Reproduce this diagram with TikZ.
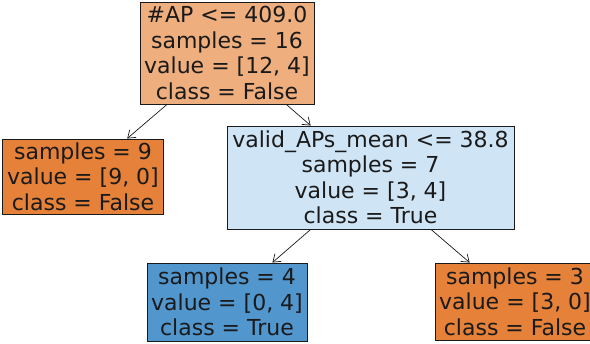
\documentclass[tikz,border=0pt]{standalone}
\usepackage{fontspec}
\setmainfont{DejaVu Sans}
\usepackage{xcolor}
\usepackage{tikz}
\usetikzlibrary{arrows.meta}

\definecolor{falsefull}{RGB}{229,129,57}
\definecolor{falselight}{RGB}{239,174,126}
\definecolor{truefull}{RGB}{82,150,206}
\definecolor{truelight}{RGB}{207,229,246}
\definecolor{inkgray}{RGB}{26,26,26}

\begin{document}
\begin{tikzpicture}[
  x=1pt, y=1pt,
  box/.style={draw=inkgray, line width=0.9pt, align=center, inner sep=1pt,
    text=inkgray, font=\fontsize{22}{25.5}\selectfont},
  split/.style={box, fill=falselight},
  leaffalse/.style={box, fill=falsefull},
  leaftrue/.style={box, fill=truefull},
  arrow/.style={-{Straight Barb[length=7pt, width=10pt]}, draw=inkgray, line width=0.7pt},
]
\useasboundingbox (0,0) rectangle (590,344);

%% Root split
\node[split, minimum width=174, minimum height=102] (root) at (227,291)
  {\#AP <= 409.0\\samples = 16\\value = [12, 4]\\class = False};

%% Depth one
\node[leaffalse, minimum width=161, minimum height=75] (left) at (83,167.5)
  {samples = 9\\value = [9, 0]\\class = False};
\node[box, fill=truelight, minimum width=287, minimum height=103] (mean) at (370.5,166.5)
  {valid\_APs\_mean <= 38.8\\samples = 7\\value = [3, 4]\\class = True};

%% Depth two
\node[leaftrue, minimum width=160, minimum height=78] (lowT) at (227,42)
  {samples = 4\\value = [0, 4]\\class = True};
\node[leaffalse, minimum width=160, minimum height=77] (lowF) at (515,42.5)
  {samples = 3\\value = [3, 0]\\class = False};

%% Edges
\draw[arrow] (root) -- (left);
\draw[arrow] (root) -- (mean);
\draw[arrow] (mean) -- (lowT);
\draw[arrow] (mean) -- (lowF);

\end{tikzpicture}
\end{document}
